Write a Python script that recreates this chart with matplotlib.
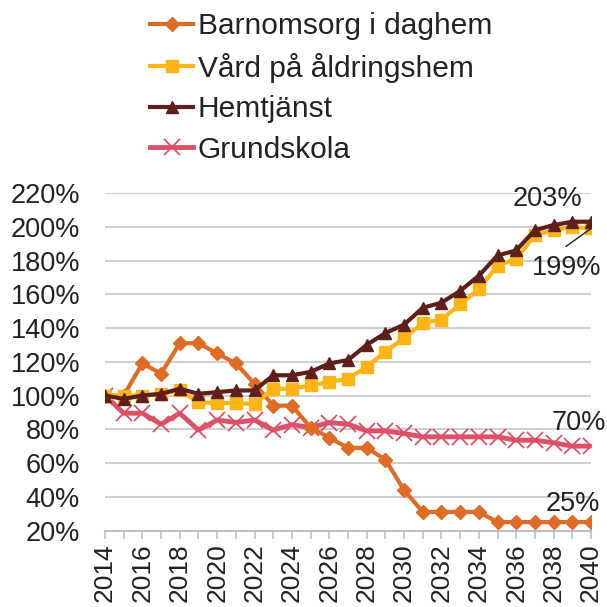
import numpy as np
import matplotlib
matplotlib.use("Agg")
import matplotlib.pyplot as plt
from matplotlib.ticker import MultipleLocator, FuncFormatter

plt.rcParams['font.family'] = ['Liberation Sans', 'DejaVu Sans']

years = list(range(2014, 2041))

# index, 2014 = 100%
barnomsorg = [100, 100, 119, 113, 131, 131, 125, 119, 107, 94, 94, 81, 75, 69, 69, 62,
              44, 31, 31, 31, 31, 25, 25, 25, 25, 25, 25]
vard = [100, 100, 100, 101, 103, 96, 95.5, 95.5, 95, 104, 104, 106, 108, 110, 117, 126,
        134, 143, 145, 154, 163, 177, 181, 195, 198, 200, 199]
hemtjanst = [100, 98, 100, 101, 104, 101, 102, 103, 103, 112, 112, 114, 119, 121, 130, 137,
             142, 152, 155, 162, 171, 183, 186, 198, 201, 203, 203]
grundskola = [100, 89.5, 89.5, 83, 89.5, 79.5, 85.5, 84, 85.5, 79.5, 82.7, 81, 84, 83, 79,
              79, 77.5, 75.5, 75.5, 75.5, 75.5, 75.5, 73.5, 73.5, 72, 70, 70]

labels = ["Barnomsorg i daghem", "Vård på åldringshem", "Hemtjänst", "Grundskola"]
end_labels = ["25%", "199%", "203%", "70%"]

c_orange = "#E06B25"
c_yellow = "#FDB515"
c_dark = "#5E1F1A"
c_pink = "#DC5068"
c_text = "#222222"

fig = plt.figure(figsize=(6.07, 6.07), dpi=100)
ax = fig.add_axes([0.173, 0.126, 0.8006, 0.556])

l1, = ax.plot(years, barnomsorg, color=c_orange, lw=3, marker="D", ms=7.5, label=labels[0], zorder=3)
l2, = ax.plot(years, vard, color=c_yellow, lw=3, marker="s", ms=8, label=labels[1], zorder=3)
l3, = ax.plot(years, hemtjanst, color=c_dark, lw=3, marker="^", ms=9, label=labels[2], zorder=4)
l4, = ax.plot(years, grundskola, color=c_pink, lw=3.5, marker="x", ms=11, mew=1.3, label=labels[3], zorder=2)

ax.set_xlim(2014, 2040)
ax.set_ylim(20, 220)
ax.yaxis.set_major_locator(MultipleLocator(20))
ax.yaxis.set_major_formatter(FuncFormatter(lambda v, p: f"{v:.0f}%"))
ax.xaxis.set_major_locator(MultipleLocator(2))
ax.xaxis.set_minor_locator(MultipleLocator(1))

ax.grid(axis="y", color="#D0D0D0", lw=1.5)
ax.set_axisbelow(True)
for s in ["top", "right", "left"]:
    ax.spines[s].set_visible(False)
ax.spines["bottom"].set_color("#BFBFBF")
ax.spines["bottom"].set_linewidth(1.5)

ax.tick_params(axis="y", length=0, pad=18, labelsize=19.5, labelcolor=c_text)
ax.tick_params(axis="x", which="both", length=6, width=1.2, color="#BFBFBF", direction="out")
ax.tick_params(axis="x", which="major", pad=3, labelsize=19, labelrotation=90, labelcolor=c_text)

# end-value labels
ax.annotate(end_labels[2], xy=(years[-1], hemtjanst[-1]), xytext=(-44, 23),
            textcoords="offset pixels", ha="center", va="center", fontsize=19.5, color=c_text)
ax.annotate(end_labels[1], xy=(years[-1], vard[-1]), xytext=(-24, -40),
            textcoords="offset pixels", ha="center", va="center", fontsize=19.5, color=c_text)
# leader line for 199%
ax.annotate("", xy=(years[-1], vard[-1]), xytext=(-25, -18), textcoords="offset pixels",
            annotation_clip=False,
            arrowprops=dict(arrowstyle="-", color=c_text, lw=1, shrinkA=0, shrinkB=0), zorder=6)
ax.annotate(end_labels[3], xy=(years[-1], grundskola[-1]), xytext=(-12, 23),
            textcoords="offset pixels", ha="center", va="center", fontsize=19.5, color=c_text)
ax.annotate(end_labels[0], xy=(years[-1], barnomsorg[-1]), xytext=(-18, 18),
            textcoords="offset pixels", ha="center", va="center", fontsize=19.5, color=c_text)

fig.legend(handles=[l1, l2, l3, l4], loc="upper left", bbox_to_anchor=(0.247, 0.98),
           frameon=False, fontsize=21.5, handlelength=1.45, handletextpad=0.15,
           labelspacing=0.42, borderaxespad=0.0, borderpad=0.0, labelcolor=c_text)

fig.savefig("out.png", dpi=100)
